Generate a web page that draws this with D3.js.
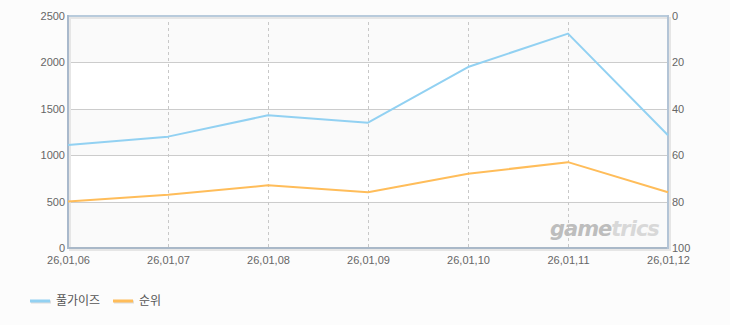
<!DOCTYPE html>
<html><head><meta charset="utf-8">
<script src="https://cdn.jsdelivr.net/npm/d3@7"></script>
<style>
html,body{margin:0;padding:0;background:#fcfcfc;}
svg{display:block;font-family:"Noto Sans CJK KR","DejaVu Sans",sans-serif;}
</style></head><body>
<svg id="c" width="730" height="325"></svg>
<script>
const categories = ["26,01,06","26,01,07","26,01,08","26,01,09","26,01,10","26,01,11","26,01,12"];
const seriesNames = ["풀가이즈","순위"];
const visitors = [1110, 1200, 1430, 1350, 1950, 2310, 1215];
const ranks = [80, 77, 73, 76, 68, 63, 76];
const leftTicks = [0, 500, 1000, 1500, 2000, 2500];
const rightTicks = [0, 20, 40, 60, 80, 100];
const colors = ["#92d1f2", "#ffbd5a"];

const svg = d3.select("#c");
const L = 68, R = 668, T = 16, B = 248;
const x = d3.scalePoint().domain(categories).range([L, R]);
const yL = d3.scaleLinear().domain([0, 2500]).range([B, T]);
const yR = d3.scaleLinear().domain([0, 100]).range([T, B]);

// bands
for (let i = 0; i < leftTicks.length - 1; i++) {
  svg.append("rect").attr("x", L).attr("width", R - L)
    .attr("y", yL(leftTicks[i + 1])).attr("height", yL(leftTicks[i]) - yL(leftTicks[i + 1]))
    .attr("fill", (leftTicks.length - 2 - i) % 2 === 0 ? "#fafafa" : "#ffffff");
}
// horizontal grid
svg.append("g").selectAll("line").data(leftTicks.slice(1, -1)).join("line")
  .attr("x1", L).attr("x2", R).attr("y1", d => Math.round(yL(d)) + 0.5).attr("y2", d => Math.round(yL(d)) + 0.5)
  .attr("stroke", "#cccccc").attr("stroke-width", 1);
// vertical dashed grid
svg.append("g").selectAll("line").data(categories.slice(1, -1)).join("line")
  .attr("x1", d => x(d) + 0.5).attr("x2", d => x(d) + 0.5).attr("y1", T).attr("y2", B)
  .attr("stroke", "#c8c8c8").attr("stroke-dasharray", "3,3");

// frame with shadow
svg.append("rect").attr("x", L + 2).attr("y", T + 2).attr("width", R - L).attr("height", B - T)
  .attr("fill", "none").attr("stroke", "#e6e6e6").attr("stroke-width", 2);
svg.append("line").attr("x1", L).attr("x2", R).attr("y1", T).attr("y2", T).attr("stroke", "#b8cbdc").attr("stroke-width", 2);
svg.append("line").attr("x1", L).attr("x2", R).attr("y1", B).attr("y2", B).attr("stroke", "#a9b8c8").attr("stroke-width", 2);
svg.append("line").attr("x1", L).attr("x2", L).attr("y1", T - 1).attr("y2", B + 1).attr("stroke", "#a9b9cc").attr("stroke-width", 2);
svg.append("line").attr("x1", R).attr("x2", R).attr("y1", T - 1).attr("y2", B + 1).attr("stroke", "#b3c4d6").attr("stroke-width", 2);

// axes
const fmt = d3.format("d");
const gl = svg.append("g").attr("transform", `translate(${L - 1},0)`)
  .call(d3.axisLeft(yL).tickValues(leftTicks).tickFormat(fmt).tickSize(0).tickPadding(2));
const gr = svg.append("g").attr("transform", `translate(${R + 1},0)`)
  .call(d3.axisRight(yR).tickValues(rightTicks).tickFormat(fmt).tickSize(0).tickPadding(3));
const gb = svg.append("g").attr("transform", `translate(0,${B + 1})`)
  .call(d3.axisBottom(x).tickSize(0).tickPadding(7));
[gl, gr, gb].forEach(g => {
  g.select(".domain").remove();
  g.selectAll("text").attr("fill", "#666").attr("font-size", "11px");
});

// watermark
const wm = svg.append("text").attr("x", 550).attr("y", 236)
  .attr("font-family", "DejaVu Sans, sans-serif").attr("font-size", "21px")
  .attr("font-weight", "bold").attr("font-style", "italic").attr("letter-spacing", "-1");
wm.append("tspan").attr("fill", "#bdbdbd").text("game");
wm.append("tspan").attr("fill", "#d8d8d8").text("trics");

// lines
const line = (yS) => d3.line().x((d, i) => x(categories[i])).y(d => yS(d));
svg.append("path").datum(visitors).attr("d", line(yL)).attr("fill", "none")
  .attr("stroke", colors[0]).attr("stroke-width", 2).attr("stroke-linejoin", "round");
svg.append("path").datum(ranks).attr("d", line(yR)).attr("fill", "none")
  .attr("stroke", colors[1]).attr("stroke-width", 2).attr("stroke-linejoin", "round");

// legend
const leg = [{n: seriesNames[0], c: colors[0], x: 30}, {n: seriesNames[1], c: colors[1], x: 113}];
leg.forEach(d => {
  svg.append("line").attr("x1", d.x + 1).attr("x2", d.x + 21).attr("y1", 302).attr("y2", 302)
    .attr("stroke", "#dddddd").attr("stroke-width", 3);
  svg.append("line").attr("x1", d.x).attr("x2", d.x + 20).attr("y1", 301).attr("y2", 301)
    .attr("stroke", d.c).attr("stroke-width", 3);
  svg.append("text").attr("x", d.x + 26).attr("y", 305).attr("font-size", "12px").attr("fill", "#555").text(d.n);
});
</script>
</body></html>
